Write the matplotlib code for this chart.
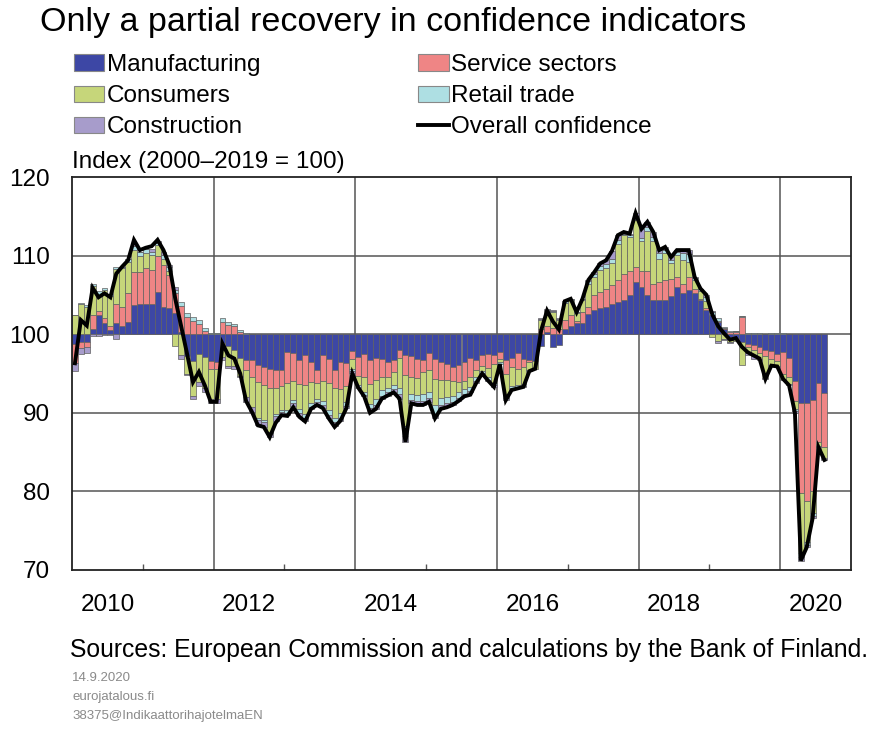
import numpy as np
import matplotlib
matplotlib.use('Agg')
import matplotlib.pyplot as plt
from matplotlib.patches import Patch
from matplotlib.lines import Line2D

plt.rcParams['font.family'] = ['Liberation Sans', 'DejaVu Sans']

# monthly data, Jan 2010 - Aug 2020, deviation from 100 (index points)
start_year = 2010
overall = [96.3, 101.8, 101.1, 105.9, 104.7, 105.2, 104.7, 107.7, 108.6, 109.4, 112.0, 110.7,
           111.0, 111.2, 112.0, 110.7, 108.8, 104.5, 101.0, 97.5, 93.9, 95.2, 93.5, 91.4,
           91.4, 98.8, 97.3, 96.9, 95.0, 91.5, 90.1, 88.4, 88.2, 86.9, 88.7, 89.7,
           89.6, 90.7, 89.5, 88.9, 90.5, 91.0, 90.6, 89.3, 88.2, 89.0, 90.6, 95.0,
           93.2, 92.1, 90.0, 90.5, 91.8, 92.2, 92.6, 91.8, 86.3, 91.2, 91.0, 91.0,
           91.4, 89.3, 90.5, 90.7, 91.0, 91.5, 92.1, 92.3, 93.8, 95.0, 94.1, 93.3,
           96.2, 91.6, 92.9, 93.1, 93.3, 95.3, 95.6, 100.5, 103.0, 101.6, 100.6, 104.2,
           104.5, 102.8, 104.5, 106.9, 107.9, 109.0, 109.4, 110.6, 112.6, 113.0, 112.8, 115.4,
           113.4, 114.3, 113.0, 110.7, 111.1, 109.8, 110.7, 110.7, 110.7, 107.3, 105.8, 105.0,
           102.5, 101.0, 100.1, 99.3, 99.5, 98.4, 97.7, 97.3, 96.9, 94.3, 96.0, 95.9,
           94.3, 93.5, 90.0, 71.2, 72.9, 76.6, 85.6, 84.0]

manufacturing = [-1.2, -1.0, -1.0, 0.7, 2.4, 1.4, 0.5, 1.4, 1.1, 1.6, 3.7, 3.9,
                 3.9, 3.9, 5.4, 3.5, 3.3, 2.7, 0.3, -2.8, -3.4, -2.5, -2.9, -3.4,
                 -3.6, -1.1, -1.5, -2.0, -3.0, -3.3, -3.3, -3.9, -4.2, -4.4, -4.6, -4.6,
                 -2.3, -2.4, -3.3, -2.6, -3.5, -4.6, -2.6, -3.2, -4.6, -3.6, -3.7, -2.2,
                 -2.9, -2.5, -3.3, -3.0, -3.2, -3.5, -3.3, -2.0, -2.6, -2.8, -3.1, -3.3,
                 -2.4, -3.1, -3.6, -3.8, -4.2, -3.9, -3.6, -3.0, -3.3, -2.7, -2.5, -2.6,
                 -2.3, -3.3, -3.0, -2.4, -3.2, -3.3, -3.4, -1.5, 0.3, -1.6, -1.4, 0.6,
                 1.1, 1.4, 1.4, 2.6, 3.1, 3.3, 3.5, 3.9, 4.1, 4.3, 5.0, 6.7,
                 6.0, 5.0, 4.3, 4.3, 4.3, 4.8, 6.0, 5.2, 5.6, 5.2, 4.3, 3.1,
                 2.4, 1.6, 0.6, -0.3, -0.6, -1.0, -1.2, -1.4, -1.6, -2.0, -2.2, -2.5,
                 -2.3, -3.0, -6.0, -8.7, -8.7, -8.4, -6.2, -7.5]

services = [-2.5, -0.8, -0.6, 1.7, 0.6, 0.6, 0.6, 2.5, 2.3, 3.6, 4.2, 4.0,
            4.5, 4.3, 4.5, 5.3, 4.2, 2.5, 3.3, 2.2, 1.7, 1.3, 0.4, -1.0,
            -0.8, 1.6, 1.2, 1.0, 0.3, -1.3, -2.1, -2.2, -2.3, -2.5, -2.2, -2.0,
            -3.9, -3.5, -3.0, -3.8, -2.6, -1.6, -3.3, -3.0, -2.2, -3.4, -2.9, -1.0,
            -2.4, -3.0, -3.0, -2.8, -2.3, -2.0, -1.5, -1.0, -2.6, -2.6, -2.5, -1.5,
            -2.2, -2.6, -2.2, -2.0, -1.8, -2.2, -2.4, -2.5, -1.2, -1.4, -1.8, -1.2,
            -0.8, -1.8, -1.2, -2.0, -1.0, -0.3, 0.0, 0.6, 0.8, 0.8, 0.6, 1.2,
            1.3, 0.3, 1.4, 0.9, 1.9, 2.1, 2.3, 2.3, 2.8, 3.4, 3.0, 1.9,
            2.0, 3.1, 2.1, 2.4, 2.6, 2.2, 1.3, 1.2, 1.7, 0.5, 0.2, 0.2,
            0.1, 0.1, 0.2, 0.3, 0.3, 2.2, -0.4, -0.6, -0.8, -0.8, -0.9, -0.9,
            -2.8, -2.5, -2.5, -11.5, -12.5, -11.5, -7.5, -6.8]

consumers = [2.4, 3.9, 3.5, 3.7, 2.0, 3.6, 3.8, 4.4, 5.0, 4.0, 2.8, 2.1,
             1.9, 1.9, 1.5, 0.8, 0.6, -1.5, -2.6, -2.2, -4.5, -3.6, -3.9, -3.8,
             -3.8, -1.8, -2.5, -2.1, -2.3, -3.4, -3.8, -4.6, -4.4, -5.5, -3.3, -3.0,
             -3.5, -2.5, -3.2, -3.8, -2.6, -2.0, -2.6, -3.5, -3.8, -3.0, -2.0, -1.2,
             -1.1, -1.8, -2.6, -2.4, -1.6, -1.3, -1.6, -3.8, -6.5, -2.2, -2.1, -2.8,
             -2.7, -3.3, -2.3, -2.2, -1.8, -1.2, -1.0, -1.2, -1.0, -0.6, -1.2, -2.4,
             -0.5, -2.6, -2.4, -2.1, -2.1, -0.9, -1.0, 1.2, 1.8, 2.0, 1.2, 2.2,
             1.9, 1.0, 1.5, 2.9, 2.3, 2.8, 2.6, 2.8, 4.6, 4.9, 4.4, 5.9,
             3.8, 5.0, 5.5, 2.9, 3.4, 2.0, 2.8, 3.0, 1.9, 1.2, 1.0, 0.9,
             -0.4, -0.9, -0.6, -0.7, -0.3, -2.9, -0.8, -0.8, -0.8, -2.8, -0.8, -0.7,
             -0.6, -0.8, -1.0, -7.6, -5.2, -2.8, -0.5, -1.5]

retail = [0.0, 0.1, 0.2, 0.3, 0.5, 0.3, 0.2, 0.2, 0.2, 0.4, 0.5, 0.4,
          0.6, 0.4, 0.2, 0.5, 0.5, 0.4, 0.5, 0.5, 0.5, 0.5, 0.4, 0.2,
          0.2, 0.5, 0.4, 0.3, 0.2, 0.1, 0.0, -0.2, -0.3, -0.2, -0.3, -0.3,
          -0.3, -0.4, -0.5, -0.5, -0.5, -0.4, -0.5, -0.6, -0.6, -0.6, -0.5, -0.3,
          -0.3, -0.4, -0.5, -0.8, -0.7, -0.6, -0.6, -0.8, -1.2, -0.8, -0.8, -0.9,
          -0.8, -1.1, -0.9, -0.8, -0.8, -0.8, -0.6, -0.5, -0.4, -0.2, -0.3, -0.3,
          -0.2, -0.4, -0.3, -0.3, -0.3, -0.2, 0.0, 0.1, 0.2, 0.2, 0.1, 0.2,
          0.2, 0.1, 0.2, 0.4, 0.4, 0.5, 0.5, 0.6, 0.5, 0.2, 0.2, 0.5,
          0.4, 0.6, 0.5, 0.7, 0.4, 0.4, 0.4, 0.9, 1.0, 0.3, 0.2, 0.5,
          0.3, 0.4, 0.1, 0.1, 0.1, 0.1, 0.2, 0.2, 0.1, 0.0, 0.1, 0.1,
          0.1, 0.0, -0.3, -0.6, -0.4, -0.4, 0.0, -0.1]

construction = [-1.0, -0.7, -0.8, -0.2, -0.2, -0.1, -0.1, -0.6, 0.0, 0.0, 0.3, 0.0,
                0.0, 0.4, 0.3, 0.3, 0.2, 0.4, -0.5, -0.2, -0.4, -0.5, -0.5, -0.6,
                -0.6, -0.4, -0.3, -0.3, -0.2, -0.6, -0.7, -0.7, -0.6, -0.5, -0.6, -0.4,
                -0.3, -0.3, -0.4, -0.4, -0.3, -0.3, -0.4, -0.4, -0.5, -0.4, -0.3, -0.2,
                -0.1, -0.2, -0.4, -0.5, -0.4, -0.4, -0.4, -0.6, -0.8, -0.4, -0.5, -0.5,
                -0.5, -0.6, -0.5, -0.5, -0.4, -0.4, -0.3, -0.2, -0.3, -0.1, -0.1, -0.2,
                0.0, -0.3, -0.2, -0.1, -0.1, 0.0, 0.0, 0.1, 0.1, 0.1, 0.1, 0.0,
                0.0, 0.0, 0.0, 0.1, 0.2, 0.3, 0.5, 1.0, 0.6, 0.2, 0.2, 0.4,
                1.2, 0.6, 0.6, 0.4, 0.4, 0.4, 0.2, 0.4, 0.5, 0.1, 0.1, 0.3,
                0.1, -0.2, -0.2, -0.1, 0.0, 0.0, -0.3, -0.4, -0.1, -0.1, -0.2, -0.1,
                -0.1, -0.2, -0.2, -0.4, -0.3, -0.3, -0.2, -0.1]

series = [('Manufacturing', manufacturing, '#3D47A5'),
          ('Service sectors', services, '#EF8585'),
          ('Consumers', consumers, '#C6D67A'),
          ('Retail trade', retail, '#AEDFE3'),
          ('Construction', construction, '#A79CCB')]

n = len(overall)
x = start_year + (np.arange(n) + 0.5) / 12

fig = plt.figure(figsize=(8.71, 7.29), dpi=100)
ax = fig.add_axes([72/871, 1 - 570/729, (851-72)/871, (570-177)/729])

pos = np.full(n, 100.0)
neg = np.full(n, 100.0)
for name, vals, col in series:
    v = np.array(vals)
    bottom = np.where(v >= 0, pos, neg)
    ax.bar(x, v, width=1/12, bottom=bottom, color=col, edgecolor='#5f5f5f',
           linewidth=0.5, zorder=2)
    pos = np.where(v >= 0, pos + v, pos)
    neg = np.where(v < 0, neg + v, neg)

ax.plot(x, overall, color='black', lw=2.8, zorder=3, solid_joinstyle='miter')

ax.set_xlim(2010, 2021)
ax.set_ylim(70, 120)
ax.set_yticks([70, 80, 90, 100, 110, 120])
ax.tick_params(axis='y', length=0, pad=16, labelsize=17.5)
ax.set_xticks([y + 0.5 for y in range(2010, 2021, 2)])
ax.set_xticklabels([str(y) for y in range(2010, 2021, 2)])
ax.tick_params(axis='x', length=0, pad=17, labelsize=17.5)
ax.set_xticks([2011, 2013, 2015, 2017, 2019], minor=True)
ax.tick_params(axis='x', which='minor', direction='in', length=4, width=1, color='#555555')

for yv in [80, 90, 100, 110]:
    ax.axhline(yv, color='#555555', lw=1.1, zorder=1)
for xv in [2012, 2014, 2016, 2018, 2020]:
    ax.axvline(xv, color='#555555', lw=1.1, zorder=1)
for s in ax.spines.values():
    s.set_linewidth(1.3)
    s.set_color('#222222')

fig.text(40/871, 1 - 22/729, 'Only a partial recovery in confidence indicators',
         fontsize=24.5, va='center', ha='left')
fig.text(72/871, 1 - 162/729, 'Index (2000\u20132019 = 100)', fontsize=17.5,
         va='center', ha='left')

handles = [Patch(facecolor=c, edgecolor='#888888', lw=0.8, label=nm)
           for nm, _, c in series]
handles.append(Line2D([], [], color='black', lw=2.8, label='Overall confidence'))
order = [0, 2, 4, 1, 3, 5]
fig.legend([handles[i] for i in order], [handles[i].get_label() for i in order],
           loc='upper left', bbox_to_anchor=(74/871, 1 - 54/729), ncol=2,
           frameon=False, fontsize=17.5, handlelength=1.25, handleheight=0.65,
           handletextpad=0.1, columnspacing=6.5, labelspacing=0.38,
           borderaxespad=0, borderpad=0)

fig.text(70/871, 1 - 650/729,
         'Sources: European Commission and calculations by the Bank of Finland.',
         fontsize=17.8, va='center', ha='left')
for i, t in enumerate(['14.9.2020', 'eurojatalous.fi', '38375@IndikaattorihajotelmaEN']):
    fig.text(72/871, 1 - (678 + 19*i)/729, t, fontsize=9.5, color='#8a8a8a',
             va='center', ha='left')

fig.savefig('out.png', dpi=100)
